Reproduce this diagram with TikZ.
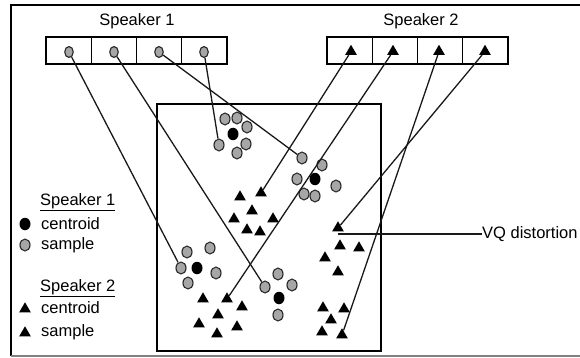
\documentclass[tikz,border=0pt]{standalone}
\usepackage{fontspec}
\setmainfont{Liberation Sans}
\usetikzlibrary{shapes.geometric}

\begin{document}
\begin{tikzpicture}[x=1pt, y=-1pt,
    cell/.style={draw, line width=1.3pt, minimum width=45.25pt, minimum height=27pt, inner sep=0pt},
    smp/.style={ellipse, draw=black!85, line width=1.1pt, fill=gray!70, minimum width=10pt, minimum height=12pt, inner sep=0pt},
    cen/.style={ellipse, fill=black, minimum width=11pt, minimum height=12.5pt, inner sep=0pt},
    tri/.style={regular polygon, regular polygon sides=3, fill=black, minimum size=13.5pt, inner sep=0pt},
    lbl/.style={font=\fontsize{16.5}{19}\selectfont, inner sep=0pt},
    link/.style={line width=1.3pt, black!90}]
                \useasboundingbox (0,0) rectangle (580,358);
                \draw[line width=1.8pt] (580,5) -- (11,5) -- (11,356);
                \draw[line width=1.6pt, gray] (11,356) -- (580,356);
                \draw[line width=1.3pt] (157,104) rectangle (381,351);

                \node[lbl] (spk1) at (137,21) {Speaker 1};
                \node[lbl] (spk2) at (421,21) {Speaker 2};

                \node[cell] (b11) at (68.6,50.5) {};
                \node[cell] (b12) at (113.9,50.5) {};
                \node[cell] (b13) at (159.1,50.5) {};
                \node[cell] (b14) at (204.4,50.5) {};
                \node[cell] (b21) at (349.6,50.5) {};
                \node[cell] (b22) at (394.9,50.5) {};
                \node[cell] (b23) at (440.1,50.5) {};
                \node[cell] (b24) at (485.4,50.5) {};

                \node[smp, minimum width=8.5pt, minimum height=11pt] (s11) at (69,52) {};
                \node[smp, minimum width=8.5pt, minimum height=11pt] (s12) at (114,52) {};
                \node[smp, minimum width=8.5pt, minimum height=11pt] (s13) at (159,52) {};
                \node[smp, minimum width=8.5pt, minimum height=11pt] (s14) at (204,52) {};
                \node[tri] (s21) at (351,51.5) {};
                \node[tri] (s22) at (393,51.5) {};
                \node[tri] (s23) at (439,51.5) {};
                \node[tri] (s24) at (485,51.5) {};

                % speaker 1, top cluster
                \node[smp] (q1a) at (219,145) {};
                \node[smp] (q1b) at (225,119) {};
                \node[smp] (q1c) at (237,118) {};
                \node[smp] (q1d) at (247,127) {};
                \node[smp] (q1e) at (246,144) {};
                \node[smp] (q1f) at (237,153) {};
                \node[cen] (q1o) at (233,134) {};
                % speaker 1, right cluster
                \node[smp] (q2a) at (302,158) {};
                \node[smp] (q2b) at (322,165) {};
                \node[smp] (q2c) at (297,179) {};
                \node[smp] (q2d) at (336,186) {};
                \node[smp] (q2e) at (304,194) {};
                \node[smp] (q2f) at (315,196) {};
                \node[cen] (q2o) at (315,179) {};
                % speaker 1, lower left cluster
                \node[smp] (q3a) at (181,268) {};
                \node[smp] (q3b) at (187,252) {};
                \node[smp] (q3c) at (210,248) {};
                \node[smp] (q3d) at (216,273) {};
                \node[smp] (q3e) at (188,283) {};
                \node[cen] (q3o) at (197,268) {};
                % speaker 1, lower middle cluster
                \node[smp] (q4a) at (265,287) {};
                \node[smp] (q4b) at (278,274) {};
                \node[smp] (q4c) at (292,285) {};
                \node[smp] (q4d) at (278,315) {};
                \node[cen] (q4o) at (279,298) {};

                % speaker 2 clusters
                \node[tri] (t1a) at (261,193) {};
                \node[tri] (t1b) at (240,197) {};
                \node[tri] (t1c) at (252,211) {};
                \node[tri] (t1d) at (234,219) {};
                \node[tri] (t1e) at (273,219) {};
                \node[tri] (t1f) at (247,230) {};
                \node[tri] (t1g) at (260,232) {};

                \node[tri] (t2a) at (227,299) {};
                \node[tri] (t2b) at (203,299) {};
                \node[tri] (t2c) at (242,307) {};
                \node[tri] (t2d) at (218,315) {};
                \node[tri] (t2e) at (199,324) {};
                \node[tri] (t2f) at (237,327) {};
                \node[tri] (t2g) at (217,334) {};

                \node[tri] (t3a) at (338,228) {};
                \node[tri] (t3b) at (340,246) {};
                \node[tri] (t3c) at (359,248) {};
                \node[tri] (t3d) at (325,258) {};
                \node[tri] (t3e) at (338,272) {};

                \node[tri] (t4a) at (342,335) {};
                \node[tri] (t4b) at (323,308) {};
                \node[tri] (t4c) at (344,309) {};
                \node[tri] (t4d) at (331,320) {};
                \node[tri] (t4e) at (322,332) {};

                \draw[link] (s11) -- (q3a);
                \draw[link] (s12) -- (q4a);
                \draw[link] (s13) -- (q2a);
                \draw[link] (s14) -- (q1a);
                \draw[link] (s21) -- (t1a);
                \draw[link] (s22) -- (t2a);
                \draw[link] (s23) -- (t4a);
                \draw[link] (s24) -- (t3a);

                \node[lbl, anchor=west] (vqlbl) at (482,234) {VQ distortion};
                \coordinate (vq) at (338,234);
                \draw[link] (vq) -- (vqlbl.west);

                % legend
                \node[lbl, anchor=west] (lg1) at (40,202) {\underline{Speaker 1}};
                \node[cen] (lg1o) at (25,224) {};
                \node[lbl, anchor=west] (lg1c) at (41,224) {centroid};
                \node[smp] (lg1s) at (25,245) {};
                \node[lbl, anchor=west] (lg1d) at (41,245) {sample};
                \node[lbl, anchor=west] (lg2) at (40,288) {\underline{Speaker 2}};
                \node[tri] (lg2o) at (25,309) {};
                \node[lbl, anchor=west] (lg2c) at (41,308) {centroid};
                \node[tri] (lg2s) at (25,333) {};
                \node[lbl, anchor=west] (lg2d) at (41,332) {sample};
            \end{tikzpicture}
\end{document}
